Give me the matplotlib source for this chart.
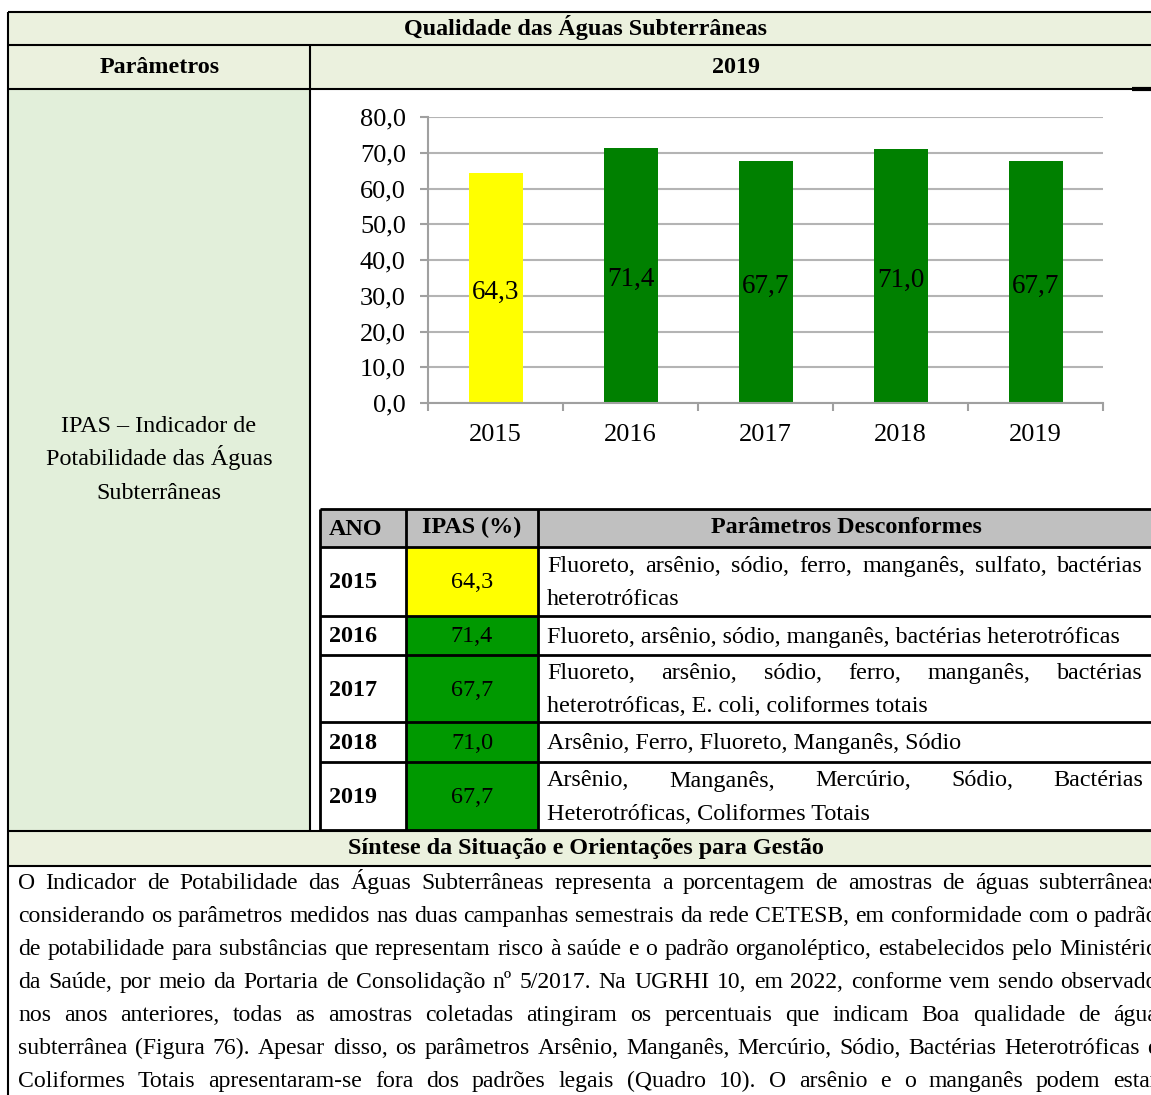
import numpy as np
import matplotlib
matplotlib.use("Agg")
import matplotlib.pyplot as plt
from matplotlib.patches import Rectangle
from matplotlib.ticker import FuncFormatter, MultipleLocator

plt.rcParams['font.family'] = ['Liberation Serif', 'DejaVu Serif']

# dados
anos = ['2015', '2016', '2017', '2018', '2019']
ipas = [64.3, 71.4, 67.7, 71.0, 67.7]
classe = ['Regular', 'Boa', 'Boa', 'Boa', 'Boa']
param_desc = [
    ["Fluoreto, arsênio, sódio, ferro, manganês, sulfato, bactérias", "heterotróficas"],
    ["Fluoreto, arsênio, sódio, manganês, bactérias heterotróficas"],
    ["Fluoreto, arsênio, sódio, ferro, manganês, bactérias", "heterotróficas, E. coli, coliformes totais"],
    ["Arsênio, Ferro, Fluoreto, Manganês, Sódio"],
    ["Arsênio, Manganês, Mercúrio, Sódio, Bactérias", "Heterotróficas, Coliformes Totais"],
]
titulo = "Qualidade das Águas Subterrâneas"
col_param = "Parâmetros"
col_ano = "2019"
indicador = ["IPAS – Indicador de", "Potabilidade das Águas", "Subterrâneas"]
tab_header = ["ANO", "IPAS (%)", "Parâmetros Desconformes"]
sintese_titulo = "Síntese da Situação e Orientações para Gestão"
sintese = [
    "O Indicador de Potabilidade das Águas Subterrâneas representa a porcentagem de amostras de águas subterrâneas",
    "considerando os parâmetros medidos nas duas campanhas semestrais da rede CETESB, em conformidade com o padrão",
    "de potabilidade para substâncias que representam risco à saúde e o padrão organoléptico, estabelecidos pelo Ministério",
    "da Saúde, por meio da Portaria de Consolidação nº 5/2017. Na UGRHI 10, em 2022, conforme vem sendo observado",
    "nos anos anteriores, todas as amostras coletadas atingiram os percentuais que indicam Boa qualidade de água",
    "subterrânea (Figura 76). Apesar disso, os parâmetros Arsênio, Manganês, Mercúrio, Sódio, Bactérias Heterotróficas e",
    "Coliformes Totais apresentaram-se fora dos padrões legais (Quadro 10). O arsênio e o manganês podem estar",
]

cores_barra = {'Boa': '#008000', 'Regular': '#FFFF00'}
cores_cel = {'Boa': '#009900', 'Regular': '#FFFF00'}

W, H = 1151, 1095
fig = plt.figure(figsize=(W / 100, H / 100), dpi=100)
bg = fig.add_axes([0, 0, 1, 1])
bg.set_xlim(0, W)
bg.set_ylim(H, 0)
bg.axis('off')

BEIGE = '#EBF1DE'
VERDE_CLARO = '#E2EFDA'
lw = 1.5
FS = 17.4   # fonte do texto (Times 12pt no documento)
BL = 7      # deslocamento centro -> linha de base

def rect(x0, y0, x1, y1, fc):
    bg.add_patch(Rectangle((x0, y0), x1 - x0, y1 - y0, facecolor=fc, edgecolor='none', zorder=0))

def hline(y, x0, x1, w=lw):
    bg.plot([x0, x1], [y, y], color='black', lw=w, solid_capstyle='butt', zorder=3)

def vline(x, y0, y1, w=lw):
    bg.plot([x, x], [y0, y1], color='black', lw=w, solid_capstyle='butt', zorder=3)

def txt(x, y, s, ha='left', bold=False, fs=FS):
    return bg.text(x, y + BL, s, ha=ha, va='baseline', fontsize=fs,
                   fontweight='bold' if bold else 'normal')

# fundos
rect(8, 12, W, 45, BEIGE)
rect(8, 45, W, 89, BEIGE)
rect(8, 89, 310, 831, VERDE_CLARO)
rect(8, 831, W, 866, BEIGE)

# tabela interna
tab_x = [320, 406, 538, W + 5]
tab_y = [509, 547, 616, 655, 722, 762, 830]
rect(320, 509, W, 547, '#C0C0C0')
for i, c in enumerate(classe):
    rect(406, tab_y[i + 1], 538, tab_y[i + 2], cores_cel[c])

# linhas
hline(12, 8, W)
hline(45, 8, W)
hline(89, 8, W)
hline(89, 1132, W, 3)
hline(831, 8, W)
hline(866, 8, W)
vline(8, 12, H)
vline(310, 45, 831)
for y in tab_y:
    hline(y, 320, W, 2)
for x in tab_x[:3]:
    vline(x, 509, 830, 2)

txt(586, 28, titulo, ha='center', bold=True)
txt(160, 66, col_param, ha='center', bold=True)
txt(736, 66, col_ano, ha='center', bold=True)
for k, t in enumerate(indicador):
    txt(159, 425 + 33.5 * k, t, ha='center')
txt(586, 847, sintese_titulo, ha='center', bold=True)

fig.canvas.draw()
renderer = fig.canvas.get_renderer()

def largura(s, fs):
    t = txt(0, 500, s, fs=fs)
    w = t.get_window_extent(renderer).width
    t.remove()
    return w

def justify(linha, x0, x1, y, fs=FS):
    words = linha.split(' ')
    objs = [txt(x0, y, w, fs=fs) for w in words]
    widths = [o.get_window_extent(renderer).width for o in objs]
    sp = largura('a a', fs) - largura('aa', fs)
    gap = max((x1 - x0 - sum(widths)) / max(len(words) - 1, 1), sp)
    x = x0
    for o, w in zip(objs, widths):
        o.set_x(x)
        x += w + gap

txt(329, 528, tab_header[0], bold=True)
txt(472, 526, tab_header[1], ha='center', bold=True)
txt(846, 526, tab_header[2], ha='center', bold=True)
for i in range(len(anos)):
    y0, y1 = tab_y[i + 1], tab_y[i + 2]
    yc = (y0 + y1) / 2
    txt(329, yc, anos[i], bold=True)
    txt(472, yc, f"{ipas[i]:.1f}".replace('.', ','), ha='center')
    linhas = param_desc[i]
    if len(linhas) == 1:
        txt(547, yc, linhas[0])
    else:
        justify(linhas[0], 547, 1143, yc - 16.5)
        txt(547, yc + 16.5, linhas[1])

for k, t in enumerate(sintese):
    justify(t, 18, 1158, 882 + 33 * k, fs=17.1)

# grafico
ax = fig.add_axes([428 / W, 1 - 403 / H, (1103 - 428) / W, (403 - 117) / H])
x = np.arange(len(anos))
cores = [cores_barra[c] for c in classe]
ax.bar(x, ipas, width=0.4, color=cores, zorder=2)
for xi, v in zip(x, ipas):
    ax.annotate(f"{v:.1f}".replace('.', ','), (xi, v / 2), xytext=(0, -3), textcoords='offset points',
                ha='center', va='center', fontsize=19.5)
ax.set_xlim(-0.5, len(anos) - 0.5)
ax.set_ylim(0, 80)
ax.yaxis.set_major_locator(MultipleLocator(10))
ax.yaxis.set_major_formatter(FuncFormatter(lambda v, p: f"{v:.1f}".replace('.', ',')))
ax.set_xticks(x)
ax.set_xticklabels(anos)
ax.set_xticks(np.arange(len(anos) + 1) - 0.5, minor=True)
ax.tick_params(axis='x', which='major', length=0, labelsize=19, pad=15)
ax.tick_params(axis='x', which='minor', length=6, width=1.5, color='#A0A0A0')
ax.tick_params(axis='y', length=6, width=1.5, color='#A0A0A0', labelsize=19, pad=10)
ax.grid(axis='y', color='#B4B4B4', lw=1.5, zorder=0)
for s in ['top', 'right']:
    ax.spines[s].set_visible(False)
for s in ['left', 'bottom']:
    ax.spines[s].set_color('#A0A0A0')
    ax.spines[s].set_linewidth(1.5)
ax.set_axisbelow(True)
ax.patch.set_alpha(0)

fig.savefig('out.png', dpi=100)
